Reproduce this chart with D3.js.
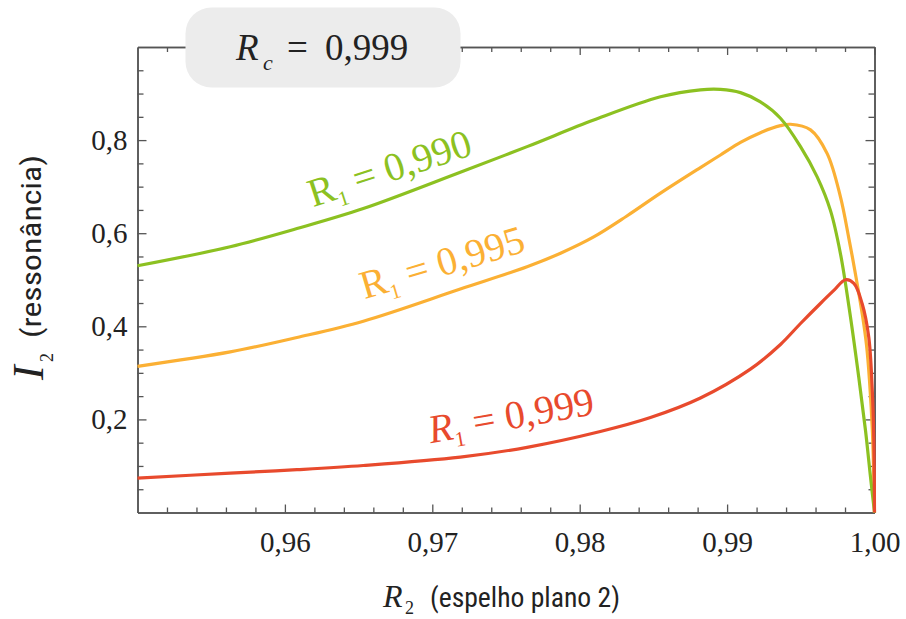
<!DOCTYPE html>
<html>
<head>
<meta charset="utf-8">
<script src="https://cdn.jsdelivr.net/npm/d3@7"></script>
</head>
<body style="margin:0">
<script>
// valores (R2 no eixo x, I2 no eixo y)
var r2_990 = [0.9500, 0.95629, 0.96082, 0.96532, 0.97190, 0.97643, 0.98095, 0.98548, 0.98819, 0.98955,
              0.99091, 0.99226, 0.99362, 0.99498, 0.99611, 0.99701, 0.99769, 0.99837, 0.99893,
              0.99939, 0.99973, 1.0];
var i2_990 = [0.530, 0.571, 0.610, 0.653, 0.731, 0.786, 0.843, 0.893, 0.908, 0.909,
              0.902, 0.882, 0.847, 0.786, 0.721, 0.649, 0.556, 0.420, 0.291,
              0.176, 0.076, 0];

var r2_995 = [0.9500, 0.95629, 0.96082, 0.96532, 0.97190, 0.97643, 0.97870, 0.98095, 0.98320, 0.98548,
              0.98819, 0.98955, 0.99091, 0.99226, 0.99362, 0.99430, 0.99566, 0.99679, 0.99769, 0.99826,
              0.99871, 0.99919, 0.99946, 0.99966, 0.99986, 1.0];
var i2_995 = [0.314, 0.345, 0.376, 0.411, 0.480, 0.528, 0.557, 0.592, 0.637, 0.686,
              0.741, 0.768, 0.795, 0.816, 0.831, 0.834, 0.822, 0.771, 0.678, 0.589,
              0.512, 0.422, 0.359, 0.284, 0.172, 0];

var r2_999 = [0.9500, 0.95629, 0.96082, 0.96532, 0.97190, 0.97643, 0.98140, 0.98480, 0.98819, 0.99158,
              0.99362, 0.99498, 0.99633, 0.99724, 0.99803, 0.99860, 0.99916, 0.99961, 0.99984,
              0.99995, 1.0];
var i2_999 = [0.074, 0.0845, 0.092, 0.101, 0.119, 0.140, 0.174, 0.204, 0.246, 0.308,
              0.361, 0.406, 0.449, 0.477, 0.500, 0.492, 0.449, 0.377, 0.269,
              0.162, 0];

var seriesR1 = ["0,995", "0,990", "0,999"];
var seriesColors = ["#fbb034", "#8cc121", "#e84a2d"];

var xTicks = [0.96, 0.97, 0.98, 0.99, 1.00];
var yTicks = [0.2, 0.4, 0.6, 0.8];

var width = 906, height = 619;
var margin = {top: 47, right: 31.5, bottom: 107, left: 137.5};

var SERIF = "Liberation Serif";
var COND = "Roboto Condensed";

var pt = d3.formatLocale({decimal: ",", thousands: ".", grouping: [3], currency: ["", ""]});

var x = d3.scaleLinear()
    .domain([0.95, 1.00])
    .range([margin.left, width - margin.right]);

var y = d3.scaleLinear()
    .domain([0, 1])
    .range([height - margin.bottom + 0.5, margin.top]);

var svg = d3.select("body").append("svg")
    .attr("width", width)
    .attr("height", height)
    .attr("font-family", SERIF);

// marcas secundárias
function notMajor(step) {
  return function(v) { return Math.abs(v / step - Math.round(v / step)) > 1e-6; };
}
var xMinor = d3.range(0.952, 1.0, 0.002).filter(notMajor(0.01));
var yMinor = d3.range(0.05, 1.0, 0.05).filter(notMajor(0.2));

var axisColor = "#555";

function styleAxis(g) {
  g.attr("font-family", SERIF).attr("font-size", 29);
  g.selectAll("path.domain").attr("stroke", axisColor).attr("stroke-width", 1.5);
  g.selectAll(".tick line").attr("stroke", axisColor).attr("stroke-width", 1.3);
  g.selectAll(".tick text").attr("fill", "#222");
}

var yb = y(0), yt = y(1), xl = x(0.95), xr = x(1.0);

// eixo inferior
svg.append("g")
    .attr("transform", "translate(0," + yb + ")")
    .call(d3.axisBottom(x).tickValues(xTicks).tickFormat(pt.format(".2f"))
      .tickSizeInner(-8).tickSizeOuter(0).tickPadding(18.5))
    .call(styleAxis);
svg.append("g")
    .attr("transform", "translate(0," + yb + ")")
    .call(d3.axisBottom(x).tickValues(xMinor).tickFormat("").tickSizeInner(-5).tickSizeOuter(0))
    .call(styleAxis);

// eixo superior
svg.append("g")
    .attr("transform", "translate(0," + yt + ")")
    .call(d3.axisTop(x).tickValues(xTicks).tickFormat("").tickSizeInner(-8).tickSizeOuter(0))
    .call(styleAxis);
svg.append("g")
    .attr("transform", "translate(0," + yt + ")")
    .call(d3.axisTop(x).tickValues(xMinor).tickFormat("").tickSizeInner(-5).tickSizeOuter(0))
    .call(styleAxis);

// eixo esquerdo
svg.append("g")
    .attr("transform", "translate(" + xl + ",0)")
    .call(d3.axisLeft(y).tickValues(yTicks).tickFormat(pt.format(".1f"))
      .tickSizeInner(-9).tickSizeOuter(0).tickPadding(10))
    .call(styleAxis);
svg.append("g")
    .attr("transform", "translate(" + xl + ",0)")
    .call(d3.axisLeft(y).tickValues(yMinor).tickFormat("").tickSizeInner(-6).tickSizeOuter(0))
    .call(styleAxis);

// eixo direito
svg.append("g")
    .attr("transform", "translate(" + xr + ",0)")
    .call(d3.axisRight(y).tickValues(yTicks).tickFormat("").tickSizeInner(-9).tickSizeOuter(0))
    .call(styleAxis);
svg.append("g")
    .attr("transform", "translate(" + xr + ",0)")
    .call(d3.axisRight(y).tickValues(yMinor).tickFormat("").tickSizeInner(-6).tickSizeOuter(0))
    .call(styleAxis);

// curvas
var line = d3.line()
    .x(function(d) { return x(d[0]); })
    .y(function(d) { return y(d[1]); })
    .curve(d3.curveCatmullRom.alpha(0.5));

var series = [d3.zip(r2_995, i2_995), d3.zip(r2_990, i2_990), d3.zip(r2_999, i2_999)];

svg.append("g")
    .attr("fill", "none")
    .attr("stroke-width", 3.2)
    .attr("stroke-linejoin", "round")
  .selectAll("path")
  .data(series)
  .enter().append("path")
    .attr("stroke", function(d, i) { return seriesColors[i]; })
    .attr("d", line);

// rótulos das curvas (âncoras em coordenadas dos dados)
var labelAnchors = [[0.96540, 0.458, -16.5, false], [0.96190, 0.656, -18, false], [0.96990, 0.149, -10, true]];

var lab = svg.selectAll(".curve-label")
    .data(seriesR1)
  .enter().append("text")
    .attr("class", "curve-label")
    .attr("transform", function(d, i) {
      var a = labelAnchors[i];
      return "translate(" + x(a[0]) + "," + y(a[1]) + ") rotate(" + a[2] + ")";
    })
    .attr("fill", function(d, i) { return seriesColors[i]; })
    .attr("font-family", SERIF)
    .attr("font-size", 40);

lab.append("tspan")
    .attr("font-style", function(d, i) { return labelAnchors[i][3] ? "italic" : "normal"; })
    .text("R");
lab.append("tspan")
    .attr("dy", 8)
    .attr("font-size", 21)
    .text("1");
lab.append("tspan")
    .attr("dy", -8)
    .attr("dx", 10)
    .text(function(d) { return "= " + d; });

// caixa do título
svg.append("rect")
    .attr("x", 185.5)
    .attr("y", 7.5)
    .attr("width", 275)
    .attr("height", 80)
    .attr("rx", 26)
    .attr("fill", "#ececec");

var title = svg.append("text")
    .attr("y", 59.5)
    .attr("fill", "#222")
    .attr("font-family", SERIF)
    .attr("font-size", 37);
title.append("tspan").attr("x", 236).attr("font-style", "italic").text("R");
title.append("tspan").attr("x", 263).attr("dy", 10).attr("font-style", "italic").attr("font-size", 22).text("c");
title.append("tspan").attr("x", 287).attr("dy", -10).text("=");
title.append("tspan").attr("x", 325).text("0,999");

// título do eixo x
var xt = svg.append("g").attr("fill", "#222");
xt.append("text")
    .attr("x", 383).attr("y", 607)
    .attr("font-family", SERIF)
    .attr("font-style", "italic").attr("font-size", 32)
    .text("R");
xt.append("text")
    .attr("x", 405).attr("y", 614)
    .attr("font-family", SERIF)
    .attr("font-size", 18)
    .text("2");
xt.append("text")
    .attr("x", 430).attr("y", 607)
    .attr("textLength", 190).attr("lengthAdjust", "spacingAndGlyphs")
    .attr("font-family", COND)
    .attr("font-size", 28)
    .text("(espelho plano 2)");

// título do eixo y
var yt2 = svg.append("g").attr("fill", "#222").attr("transform", "translate(43,380) rotate(-90)");
yt2.append("text")
    .attr("x", 0).attr("y", 0)
    .attr("font-family", SERIF)
    .attr("font-style", "italic").attr("font-size", 44)
    .text("I");
yt2.append("text")
    .attr("x", 18).attr("y", 10)
    .attr("font-family", SERIF)
    .attr("font-size", 18)
    .text("2");
yt2.append("text")
    .attr("x", 42).attr("y", -2)
    .attr("textLength", 183).attr("lengthAdjust", "spacingAndGlyphs")
    .attr("font-family", COND)
    .attr("font-size", 28)
    .text("(ressonância)");
</script>
</body>
</html>
